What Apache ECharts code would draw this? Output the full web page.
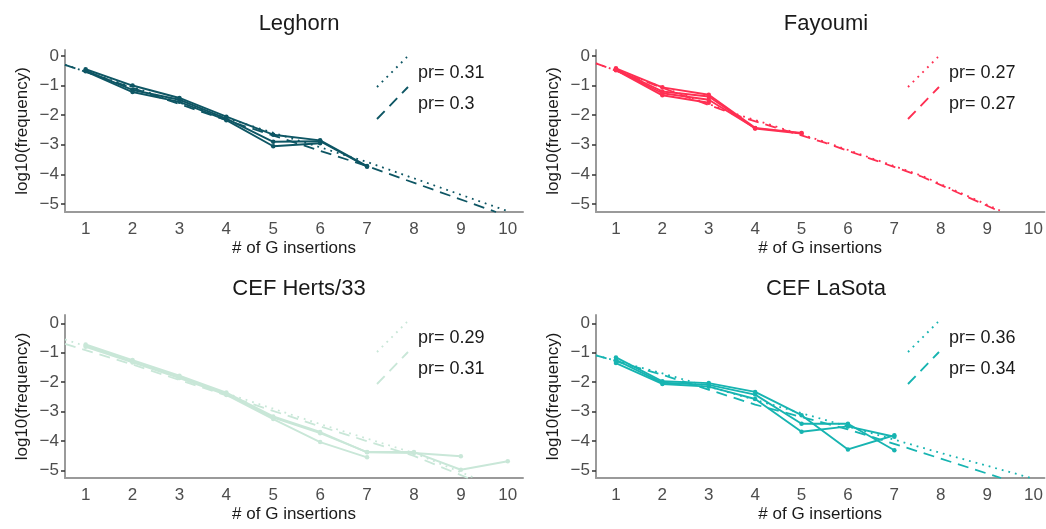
<!DOCTYPE html>
<html>
<head>
<meta charset="utf-8">
<script src="https://cdn.jsdelivr.net/npm/echarts@6/dist/echarts.min.js"></script>
<style>html,body{margin:0;background:#fff}#main{width:1046px;height:529px}</style>
</head>
<body>
<div id="main"></div>
<script>
// tick labels
var ticksX = [1, 2, 3, 4, 5, 6, 7, 8, 9, 10];
var ticksY = [-5, -4, -3, -2, -1, 0];

// panel names
var panelNames = ['Leghorn', 'Fayoumi', 'CEF Herts/33', 'CEF LaSota'];

// log10(frequency) per replicate, x = 1, 2, 3 ...
var leghorn1 = [-0.45, -1.0, -1.42, -2.05, -2.66, -2.85, -3.72];
var leghorn2 = [-0.5, -1.15, -1.48, -2.12, -2.9, -2.88, -3.74];
var leghorn3 = [-0.52, -1.22, -1.55, -2.17, -3.05, -2.95];

var fayoumi1 = [-0.42, -1.06, -1.31, -2.43, -2.6];
var fayoumi2 = [-0.45, -1.2, -1.37, -2.45, -2.62];
var fayoumi3 = [-0.47, -1.26, -1.48, -2.44];
var fayoumi4 = [-0.48, -1.33, -1.58];

var herts1 = [-0.72, -1.25, -1.78, -2.35, -3.16, -3.69, -4.38, -4.4, -4.51];
var herts2 = [-0.76, -1.3, -1.82, -2.4, -3.2, -3.73, -4.37, -4.37, -4.97, -4.68];
var herts3 = [-0.8, -1.33, -1.86, -2.43, -3.25, -4.03, -4.55];

var lasota1 = [-1.16, -1.97, -2.03, -2.33, -3.12, -4.28, -3.8];
var lasota2 = [-1.24, -2.02, -2.09, -2.42, -3.41, -3.41, -4.31];
var lasota3 = [-1.35, -2.06, -2.15, -2.57, -3.68, -3.5, -3.85];

// fitted curves, read as [x, y] points (dotted / dashed)
var leghornDot = [[0.56, -0.3], [4, -2.1], [7, -3.58], [10.05, -5.27]];
var leghornDash = [[0.56, -0.3], [4, -2.17], [7, -3.72], [9.75, -5.27]];
var fayoumiDot = [[0.57, -0.25], [3.7, -2.02], [5.5, -2.9], [7.6, -4.05], [9.35, -5.27]];
var fayoumiDash = [[0.57, -0.25], [3.7, -2.06], [5.5, -2.93], [7.6, -4.08], [9.3, -5.27]];
var hertsDot = [[0.56, -0.55], [2, -1.3], [4, -2.38], [6, -3.42], [8, -4.4], [9.3, -5.25]];
var hertsDash = [[0.56, -0.7], [2, -1.4], [4, -2.45], [6, -3.5], [8, -4.5], [9.15, -5.25]];
var lasotaDot = [[0.57, -1.09], [2, -1.7], [4, -2.6], [6, -3.5], [8, -4.4], [9.95, -5.25]];
var lasotaDash = [[0.57, -1.09], [2, -1.75], [4, -2.76], [6, -3.6], [7.6, -4.39], [9.3, -5.25]];

var prDot = ['0.31', '0.27', '0.29', '0.36'];
var prDash = ['0.3', '0.27', '0.31', '0.34'];

var colors = ['#0e5664', '#fe2f52', '#c9e7d8', '#17b4b1'];

var reps = [
  [leghorn1, leghorn2, leghorn3],
  [fayoumi1, fayoumi2, fayoumi3, fayoumi4],
  [herts1, herts2, herts3],
  [lasota1, lasota2, lasota3]
];
var dots = [leghornDot, fayoumiDot, hertsDot, lasotaDot];
var dashes = [leghornDash, fayoumiDash, hertsDash, lasotaDash];

var grids = [
  {left: 65, top: 50, width: 458, height: 162},
  {left: 596, top: 50, width: 450, height: 162},
  {left: 65, top: 315, width: 458, height: 163},
  {left: 596, top: 315, width: 450, height: 163}
];
var xMin = [0.56, 0.57, 0.56, 0.57];
var xMax = [10.325, 10.235, 10.325, 10.235];
var yMin = [-5.27, -5.27, -5.25, -5.25];
var yMax = [0.2, 0.2, 0.28, 0.28];

function minus(v) { return v < 0 ? '\u2212' + Math.abs(v) : String(v); }

var titles = [], xAxes = [], yAxes = [], series = [], graphics = [];
for (var p = 0; p < 4; p++) {
  var g = grids[p];
  titles.push({
    text: panelNames[p], left: g.left + g.width / 2, top: g.top - 42, textAlign: 'center',
    textStyle: {fontSize: 22, fontWeight: 'normal', color: '#1a1a1a', fontFamily: 'Liberation Sans'}
  });
  xAxes.push({
    gridIndex: p, type: 'value', min: xMin[p], max: xMax[p],
    axisLine: {show: true, onZero: false, lineStyle: {color: '#9a9a9a', width: 2}},
    axisTick: {show: false},
    splitLine: {show: false},
    axisLabel: {customValues: ticksX, color: '#4d4d4d', fontSize: 17, margin: 9, fontFamily: 'Liberation Sans'},
    name: '# of G insertions', nameLocation: 'middle', nameGap: 28,
    nameTextStyle: {fontSize: 17, color: '#1a1a1a', fontFamily: 'Liberation Sans'}
  });
  yAxes.push({
    gridIndex: p, type: 'value', min: yMin[p], max: yMax[p],
    axisLine: {show: true, onZero: false, lineStyle: {color: '#9a9a9a', width: 2}},
    axisTick: {show: true, length: 4, customValues: ticksY, lineStyle: {color: '#333', width: 1.5}},
    splitLine: {show: false},
    axisLabel: {customValues: ticksY, color: '#4d4d4d', fontSize: 17, margin: 6, formatter: minus, fontFamily: 'Liberation Sans'},
    name: 'log10(frequency)', nameLocation: 'middle', nameGap: 34,
    nameTextStyle: {fontSize: 17, color: '#1a1a1a', fontFamily: 'Liberation Sans'}
  });
  reps[p].forEach(function (r) {
    series.push({
      type: 'line', xAxisIndex: p, yAxisIndex: p, silent: true,
      data: r.map(function (v, i) { return [ticksX[i], v]; }),
      symbol: 'circle', symbolSize: 4.5, showSymbol: true,
      itemStyle: {color: colors[p]},
      lineStyle: {color: colors[p], width: 1.9}
    });
  });
  series.push({
    type: 'line', xAxisIndex: p, yAxisIndex: p, silent: true, data: dots[p], symbol: 'none',
    lineStyle: {color: colors[p], width: 1.8, type: [1.8, 5]}
  });
  series.push({
    type: 'line', xAxisIndex: p, yAxisIndex: p, silent: true, data: dashes[p], symbol: 'none',
    lineStyle: {color: colors[p], width: 1.8, type: [11, 7]}
  });
  // legend keys (diagonal) and labels
  var lx = g.left + 312, ly = g.top;
  graphics.push({type: 'line', shape: {x1: lx, y1: ly + 37, x2: lx + 30, y2: ly + 7},
    style: {stroke: colors[p], lineWidth: 1.9, lineDash: [1.8, 5]}});
  graphics.push({type: 'line', shape: {x1: lx, y1: ly + 69, x2: lx + 31, y2: ly + 37},
    style: {stroke: colors[p], lineWidth: 1.9, lineDash: [11, 7]}});
  graphics.push({type: 'text', x: lx + 41, y: ly + 23,
    style: {text: 'pr= ' + prDot[p], fill: '#1a1a1a', font: '18px "Liberation Sans"', verticalAlign: 'middle'}});
  graphics.push({type: 'text', x: lx + 41, y: ly + 54,
    style: {text: 'pr= ' + prDash[p], fill: '#1a1a1a', font: '18px "Liberation Sans"', verticalAlign: 'middle'}});
}

var myChart = echarts.init(document.getElementById('main'));
myChart.setOption({
  animation: false,
  title: titles,
  grid: grids,
  xAxis: xAxes,
  yAxis: yAxes,
  series: series,
  graphic: graphics
});
</script>
</body>
</html>
